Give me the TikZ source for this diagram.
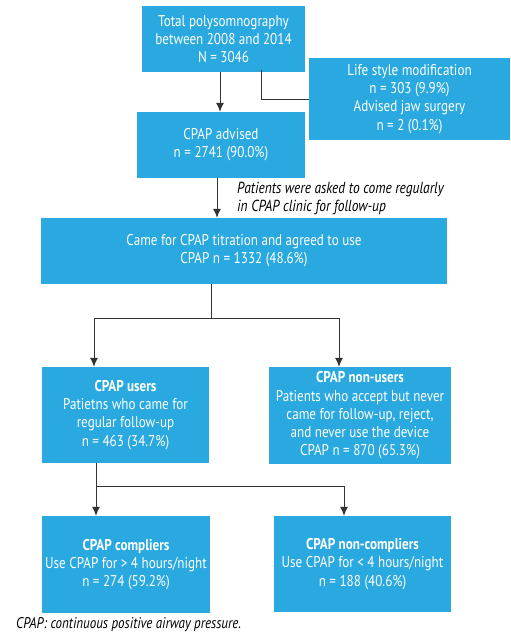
\documentclass[tikz,border=0pt]{standalone}
\usepackage{fontspec}
\setmainfont{PT Sans}[FakeStretch=0.84]
\usetikzlibrary{arrows.meta}
\definecolor{boxblue}{HTML}{29A9E0}
\tikzset{
  box/.style={fill=boxblue, text=white, align=center, inner sep=1pt,
    font=\fontsize{15.6}{18.2}\selectfont},
  link/.style={line width=1pt, draw=black!80},
  arr/.style={link, -{Latex[length=9pt,width=8pt]}},
  note/.style={align=left, inner sep=0pt, font=\fontsize{16}{18}\selectfont\itshape}
}
\begin{document}
\begin{tikzpicture}[x=1pt,y=-1pt]
	\useasboundingbox (0,0) rectangle (511,635);
	% boxes
	\node[box, minimum width=163pt, minimum height=66pt] (total) at (223.5,39) {Total polysomnography\\between 2008 and 2014\\N = 3046};
	\node[box, minimum width=201pt, minimum height=82pt] (side) at (409.5,99) {Life style modification\\n = 303 (9.9\%)\\Advised jaw surgery\\n = 2 (0.1\%)};
	\node[box, minimum width=168pt, minimum height=66pt] (advised) at (221,145) {CPAP advised\\n = 2741 (90.0\%)};
	\node[box, minimum width=406pt, minimum height=66pt] (titr) at (244,251) {Came for CPAP titration and agreed to use\\CPAP n = 1332 (48.6\%)};
	\node[box, minimum width=167pt, minimum height=96pt] (users) at (125.5,415) {\textbf{CPAP users}\\Patietns who came for\\regular follow-up\\n = 463 (34.7\%)};
	\node[box, minimum width=182pt, minimum height=97pt] (nonusers) at (360,415.5) {\textbf{CPAP non-users}\\Patients who accept but never\\came for follow-up, reject,\\and never use the device\\CPAP n = 870 (65.3\%)};
	\node[box, minimum width=168pt, minimum height=97pt] (compl) at (126,564.5) {\textbf{CPAP compliers}\\Use CPAP for > 4 hours/night\\n = 274 (59.2\%)};
	\node[box, minimum width=177pt, minimum height=96pt] (noncompl) at (362.5,564) {\textbf{CPAP non-compliers}\\Use CPAP for < 4 hours/night\\n = 188 (40.6\%)};
	\node[note, anchor=west] (ask) at (237,198) {Patients were asked to come regularly\\in CPAP clinic for follow-up};
	\node[note, anchor=west, font=\fontsize{15.5}{18}\selectfont\itshape] (foot) at (16,625) {CPAP: continuous positive airway pressure.};
	% connectors
	\draw[arr] ([xshift=-3.5pt]total.south) -- ([xshift=-3.5pt]total.south |- advised.north);
	\draw[link] ([xshift=37.5pt,yshift=2pt]total.south) |- (side.west);
	\draw[arr] ([xshift=-4pt]advised.south) -- ([xshift=-4pt]advised.south |- titr.north);
	\coordinate (split1) at (211,318);
	\draw[link] (titr.south -| split1) -- (split1);
	\draw[arr] (split1) -| ([xshift=-31.5pt]users.north);
	\draw[arr] (split1) -| ([xshift=-21pt]nonusers.north);
	\coordinate (split2) at (96,486);
	\draw[link] (users.south -| split2) -- (split2);
	\draw[arr] (split2) -- (split2 |- compl.north);
	\draw[arr] (split2) -| ([xshift=-18.5pt]noncompl.north);
\end{tikzpicture}
\end{document}
